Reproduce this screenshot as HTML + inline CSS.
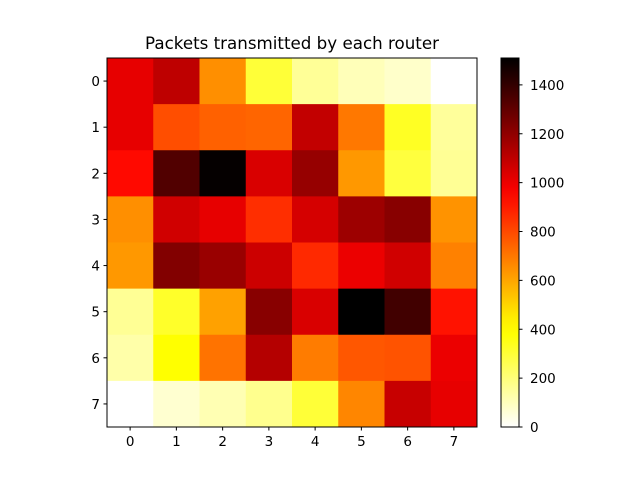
<!DOCTYPE html>
<html><head><meta charset="utf-8"><style>
body{margin:0;background:#fff}
svg{display:block;font-family:"DejaVu Sans","Liberation Sans",sans-serif}
</style></head><body>
<svg id="chart" width="640" height="480" viewBox="0 0 640 480" xmlns="http://www.w3.org/2000/svg">
<rect width="640" height="480" fill="#fff"/>
<text x="292" y="49" text-anchor="middle" font-size="16.7">Packets transmitted by each router</text>
<g id="cells"></g>
<g id="axes"></g>
<g id="cbar"></g>
</svg>
<script>
const xLabels = ["0","1","2","3","4","5","6","7"];
const yLabels = ["0","1","2","3","4","5","6","7"];
const row0 = [1010,1100,650,300,157,105,80,0];
const row1 = [1010,790,750,740,1090,700,330,150];
const row2 = [940,1335,1500,1040,1185,630,290,160];
const row3 = [650,1060,1010,860,1050,1170,1215,640];
const row4 = [630,1230,1180,1070,870,1000,1060,680];
const row5 = [160,320,610,1215,1040,1510,1370,920];
const row6 = [130,400,710,1120,690,770,780,1000];
const row7 = [0,70,115,170,300,670,1080,1010];
const values = [row0,row1,row2,row3,row4,row5,row6,row7];
const cbTicks = [0,200,400,600,800,1000,1200,1400];
const vmin = 0, vmax = 1510;

const NS = "http://www.w3.org/2000/svg";
const ax = {x0:107, y0:58, w:370, h:369};
const cb = {x0:501, y0:58, w:18, h:369};
const FS = 13.5;
function xPos(i){ return ax.x0 + i*ax.w/xLabels.length; }
function yPos(j){ return ax.y0 + j*ax.h/yLabels.length; }
function cbY(v){ return cb.y0 + cb.h - (v-vmin)/(vmax-vmin)*cb.h; }
function hotR(v){
  let t = Math.min(1,Math.max(0,(v-vmin)/(vmax-vmin)));
  let s = 1-t;
  const c = x=>Math.round(255*Math.min(1,Math.max(0,x)));
  return `rgb(${c(s/0.365079)},${c((s-0.365079)/0.365079)},${c((s-0.746032)/0.253968)})`;
}
function mk(tag, attrs, parent){
  const e = document.createElementNS(NS, tag);
  for (const k in attrs) e.setAttribute(k, attrs[k]);
  parent.appendChild(e); return e;
}
const cells = document.getElementById('cells');
values.forEach((row,j)=>row.forEach((v,i)=>{
  const r = mk('rect',{x:xPos(i),y:yPos(j),width:ax.w/xLabels.length+0.5,height:ax.h/yLabels.length+0.5,fill:hotR(v)},cells);
  
  
}));
const axes = document.getElementById('axes');
const frame = mk('rect',{x:ax.x0,y:ax.y0,width:ax.w,height:ax.h,fill:'none',stroke:'#000','stroke-width':1},axes);


xLabels.forEach((l,i)=>{
  const cx = xPos(i)+ax.w/xLabels.length/2;
  mk('line',{x1:cx,x2:cx,y1:ax.y0+ax.h,y2:ax.y0+ax.h+3.5,stroke:'#000'},axes);
  const t = mk('text',{x:cx,y:ax.y0+ax.h+19,'text-anchor':'middle','font-size':FS},axes);
  t.textContent = l;
  
  
});
yLabels.forEach((l,j)=>{
  const cy = yPos(j)+ax.h/yLabels.length/2;
  mk('line',{x1:ax.x0-3.5,x2:ax.x0,y1:cy,y2:cy,stroke:'#000'},axes);
  const t = mk('text',{x:ax.x0-7,y:cy+5,'text-anchor':'end','font-size':FS},axes);
  t.textContent = l;
  
  
});
const cbar = document.getElementById('cbar');
const defs = mk('defs',{},cbar);
const grad = mk('linearGradient',{id:'g',x1:0,y1:1,x2:0,y2:0},defs);
for (let k=0;k<=20;k++){
  mk('stop',{offset:k/20,'stop-color':hotR(vmin+k/20*(vmax-vmin))},grad);
}
const cr = mk('rect',{x:cb.x0,y:cb.y0,width:cb.w,height:cb.h,fill:'url(#g)',stroke:'#000'},cbar);


cbTicks.forEach(v=>{
  const y = cbY(v);
  mk('line',{x1:cb.x0+cb.w,x2:cb.x0+cb.w+3.5,y1:y,y2:y,stroke:'#000'},cbar);
  const t = mk('text',{x:cb.x0+cb.w+11,y:y+5,'font-size':FS},cbar);
  t.textContent = String(v);
  
  
});
</script>
</body></html>
